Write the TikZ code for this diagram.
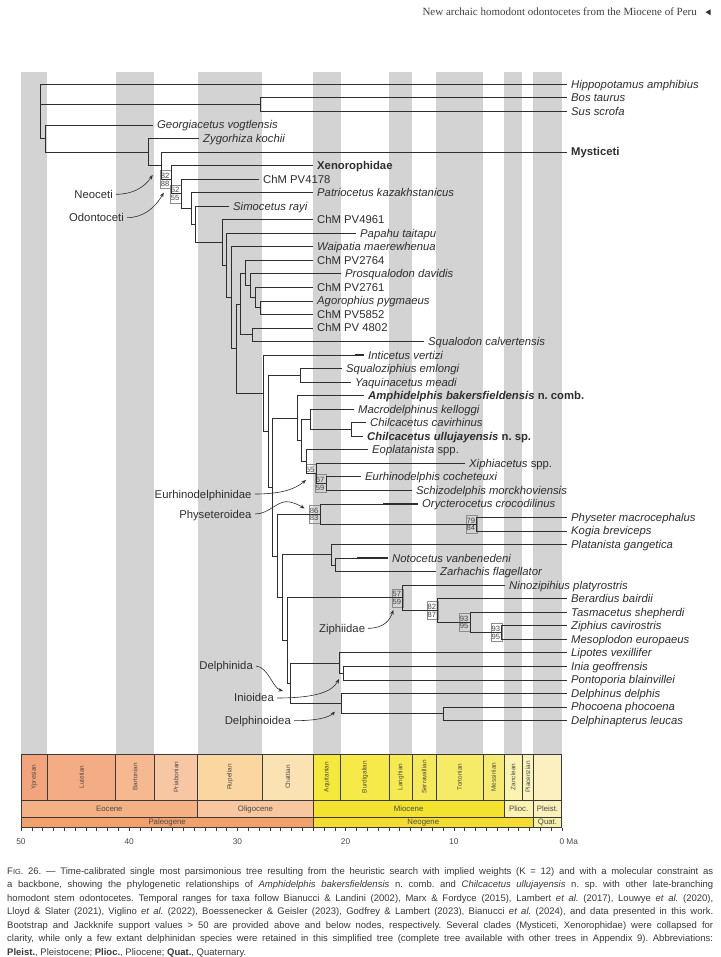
\documentclass[tikz,border=0pt]{standalone}
\usepackage{fontspec}
\setmainfont{Liberation Sans}
\newfontfamily\headfont{Liberation Serif}
\usetikzlibrary{arrows.meta,calc}
\definecolor{band}{RGB}{211,211,211}
\definecolor{ink}{HTML}{2E2E2E}
\definecolor{supc}{HTML}{444444}
\definecolor{scalet}{HTML}{4A4A4A}
\definecolor{cellline}{HTML}{3A3A3A}
\definecolor{capc}{HTML}{383838}
\definecolor{cYpr}{HTML}{F2A57C}\definecolor{cLut}{HTML}{F3AC83}
\definecolor{cBar}{HTML}{F5B890}\definecolor{cPri}{HTML}{F7C6A2}
\definecolor{cRup}{HTML}{FAD6A0}\definecolor{cCha}{HTML}{FBE2B3}
\definecolor{cAqu}{HTML}{F5EA3C}\definecolor{cBur}{HTML}{F5EA48}
\definecolor{cLan}{HTML}{F5EA52}\definecolor{cSer}{HTML}{F5EA5C}
\definecolor{cTor}{HTML}{F6EB66}\definecolor{cMes}{HTML}{F6EB72}
\definecolor{cZan}{HTML}{FAF4B0}\definecolor{cPia}{HTML}{FAF4BC}
\definecolor{cPls}{HTML}{FCF0C0}
\definecolor{cEoc}{HTML}{F4B185}\definecolor{cOli}{HTML}{F8C79F}
\definecolor{cMio}{HTML}{F3E22E}\definecolor{cPlio}{HTML}{FAF2B0}
\definecolor{cPlei}{HTML}{FBEFBC}
\definecolor{cPal}{HTML}{F2A06C}\definecolor{cNeo}{HTML}{F5DC30}
\definecolor{cQua}{HTML}{F8F0A8}
\tikzset{
 branch/.style={draw=ink, line width=0.7pt},
 rangebar/.style={draw=ink, line width=1.15pt},
 tiplab/.style={anchor=base west, inner sep=0pt, text=ink, font=\fontsize{11.3}{13}\selectfont},
 sup/.style={inner sep=0.3pt, text=supc, font=\fontsize{7.6}{8}\selectfont},
 supbox/.style={draw=black!45, line width=0.35pt},
 ann/.style={anchor=base east, inner sep=0pt, text=ink, font=\fontsize{11.3}{13}\selectfont},
 annarrow/.style={draw=ink, line width=0.6pt, -{Stealth[length=4.5pt,width=3.6pt]}},
 cell/.style={draw=cellline, line width=0.6pt},
 stagelab/.style={rotate=90, inner sep=0pt, text=scalet, font=\fontsize{6.4}{7}\selectfont},
 eplab/.style={inner sep=0pt, text=scalet, font=\fontsize{7.8}{8}\selectfont},
 axlab/.style={anchor=base, inner sep=0pt, text=scalet, font=\fontsize{8.3}{9}\selectfont},
 tickmark/.style={draw=cellline, line width=0.5pt},
 bandfill/.style={fill=band, draw=none},
}
\newcommand\tipx[4]{%
 \coordinate (#1) at (#3,{84.3+13.536*#2});
 \node[tiplab] (#1-l) at ($(#1)+(4,4)$) {#4};}
\newcommand\kids[2]{\foreach \c in {#2}{\draw[branch] (#1) |- (\c);}}
\newcommand\rng[2]{\draw[rangebar] let \p1=(#1) in (#1) -- (#2pt,\y1);}
\newcommand\sv[3]{%
 \draw[supbox] ($(#1)+(-10.5,-9)$) rectangle ($(#1)+(0,9)$);
 \node[sup,anchor=south east] at ($(#1)+(-1.2,-0.5)$) {#2};
 \node[sup,anchor=north east] at ($(#1)+(-1.2,0.7)$) {#3};}
\begin{document}
\frenchspacing
\begin{tikzpicture}[x=1pt,y=-1pt]
\useasboundingbox (0,0) rectangle (720,957);
\fill[white] (0,0) rectangle (720,957);
% header
\node[anchor=base east, inner sep=0pt, text=black!75, font=\headfont\fontsize{11}{12}\selectfont] (head) at (697,16) {New archaic homodont odontocetes from the Miocene of Peru};
\fill[black!80] (710.5,9.3) -- (705.5,12.2) -- (710.5,15.1) -- cycle;
% gray bands
\foreach \a/\b in {21/47.3,115.7/154.3,197.7/262.3,313.3/340.7,389/412.3,436/483.3,504/522.3,533.3/561.7}
 {\fill[bandfill] (\a,72) rectangle (\b,754);}
% tips
\tipx{hip}{0}{567}{\textit{Hippopotamus amphibius}}
\tipx{bos}{1}{567}{\textit{Bos taurus}}
\tipx{sus}{2}{567}{\textit{Sus scrofa}}
\tipx{geo}{3}{153}{\textit{Georgiacetus vogtlensis}}
\tipx{zyg}{4}{199}{\textit{Zygorhiza kochii}}
\tipx{mys}{5}{567}{\textbf{Mysticeti}}
\tipx{xen}{6}{313}{\textbf{Xenorophidae}}
\tipx{pv4178}{7}{259}{ChM PV4178}
\tipx{pat}{8}{313}{\textit{Patriocetus kazakhstanicus}}
\tipx{sim}{9}{229}{\textit{Simocetus rayi}}
\tipx{pv4961}{10}{313}{ChM PV4961}
\tipx{pap}{11}{356}{\textit{Papahu taitapu}}
\tipx{wai}{12}{313}{\textit{Waipatia maerewhenua}}
\tipx{pv2764}{13}{313}{ChM PV2764}
\tipx{pro}{14}{341}{\textit{Prosqualodon davidis}}
\tipx{pv2761}{15}{313}{ChM PV2761}
\tipx{ago}{16}{313}{\textit{Agorophius pygmaeus}}
\tipx{pv5852}{17}{313}{ChM PV5852}
\tipx{pv4802}{18}{313}{ChM PV 4802}
\tipx{squ}{19}{424}{\textit{Squalodon calvertensis}}
\tipx{int}{20}{364}{\textit{Inticetus vertizi}}
\tipx{sqz}{21}{342}{\textit{Squaloziphius emlongi}}
\tipx{yaq}{22}{351}{\textit{Yaquinacetus meadi}}
\tipx{amp}{23}{364}{\textbf{\textit{Amphidelphis bakersfieldensis} n. comb.}}
\tipx{mac}{24}{354}{\textit{Macrodelphinus kelloggi}}
\tipx{chc}{25}{366}{\textit{Chilcacetus cavirhinus}}
\tipx{chu}{26}{363}{\textbf{\textit{Chilcacetus ullujayensis} n. sp.}}
\tipx{eop}{27}{368}{\textit{Eoplatanista} spp.}
\tipx{xip}{28}{465}{\textit{Xiphiacetus} spp.}
\tipx{eur}{29}{361}{\textit{Eurhinodelphis cocheteuxi}}
\tipx{sch}{30}{412}{\textit{Schizodelphis morckhoviensis}}
\tipx{ory}{31}{418}{\textit{Orycterocetus crocodilinus}}
\tipx{phy}{32}{567}{\textit{Physeter macrocephalus}}
\tipx{kog}{33}{567}{\textit{Kogia breviceps}}
\tipx{pla}{34}{567}{\textit{Platanista gangetica}}
\tipx{not}{35}{388}{\textit{Notocetus vanbenedeni}}
\tipx{zar}{36}{436}{\textit{Zarhachis flagellator}}
\tipx{nin}{37}{505}{\textit{Ninozipihius platyrostris}}
\tipx{ber}{38}{567}{\textit{Berardius bairdii}}
\tipx{tas}{39}{567}{\textit{Tasmacetus shepherdi}}
\tipx{zip}{40}{567}{\textit{Ziphius cavirostris}}
\tipx{mes}{41}{567}{\textit{Mesoplodon europaeus}}
\tipx{lip}{42}{567}{\textit{Lipotes vexillifer}}
\tipx{ini}{43}{567}{\textit{Inia geoffrensis}}
\tipx{pon}{44}{567}{\textit{Pontoporia blainvillei}}
\tipx{del}{45}{567}{\textit{Delphinus delphis}}
\tipx{pho}{46}{567}{\textit{Phocoena phocoena}}
\tipx{dla}{47}{567}{\textit{Delphinapterus leucas}}
% internal nodes
\coordinate (root) at (40,84.3);
\coordinate (nBS) at (260,104.6);
\coordinate (nCet) at (45,138.5);
\coordinate (nZyg) at (148,152.1);
\coordinate (nNeo) at (161,165.8);
\coordinate (nOdo) at (171,179.65);
\coordinate (n4178) at (181,193.8);
\coordinate (nPat) at (191.7,208.5);
\coordinate (nSim) at (195,224.3);
\coordinate (n4961) at (222.7,242.55);
\coordinate (nPap) at (226.7,265.4);
\coordinate (nWai) at (231.7,297.6);
\coordinate (nCrown) at (236.7,348.5);
\coordinate (nSqd) at (240,303.9);
\coordinate (n2764) at (245.7,273.0);
\coordinate (nPro) at (250,285.65);
\coordinate (n2761) at (255,297.5);
\coordinate (nAP) at (260,307.65);
\coordinate (nSq) at (252,334.75);
\coordinate (nInt) at (263,393.05);
\coordinate (nSYA) at (268,431.1);
\coordinate (nSY) at (300,375.35);
\coordinate (nAmpP) at (272.7,486.9);
\coordinate (nAmp) at (297.7,418.0);
\coordinate (nME) at (301.7,440.45);
\coordinate (nMac) at (310,419.3);
\coordinate (nChil) at (351.7,429.45);
\coordinate (nEop) at (306,461.6);
\coordinate (nEur) at (316,473.45);
\coordinate (nES) at (326,483.6);
\coordinate (nPPZD) at (277,555.85);
\coordinate (nPhys) at (320,514.1);
\coordinate (nPK) at (476.7,524.25);
\coordinate (nPZD) at (282,597.6);
\coordinate (nPlat) at (331.7,554.7);
\coordinate (nNZ) at (335,564.85);
\coordinate (nZD) at (287,640.55);
\coordinate (nZiph) at (402.7,597.8);
\coordinate (nBer) at (437.7,610.5);
\coordinate (nTas) at (470,622.35);
\coordinate (nZip) at (501.7,632.5);
\coordinate (nDph) at (290.7,683.3);
\coordinate (nLip) at (339.3,662.95);
\coordinate (nIP) at (343.3,673.1);
\coordinate (nDel) at (341.7,703.6);
\coordinate (nPD) at (443.3,713.75);
% support boxes and values (drawn under branches)
\sv{nOdo}{82}{88}
\sv{n4178}{52}{55}
\draw[supbox] ($(nEur)+(-10,-9.5)$) rectangle (nEur);
\node[sup,anchor=south east] at ($(nEur)+(-1.2,-0.5)$) {55};
\sv{nES}{67}{59}
\sv{nPhys}{86}{83}
\sv{nPK}{79}{84}
\sv{nZiph}{57}{59}
\sv{nBer}{82}{87}
\sv{nTas}{93}{95}
\sv{nZip}{93}{95}
% branches
\kids{root}{hip,nBS,nCet}
\kids{nBS}{bos,sus}
\kids{nCet}{geo,nZyg}
\kids{nZyg}{zyg,nNeo}
\kids{nNeo}{mys,nOdo}
\kids{nOdo}{xen,n4178}
\kids{n4178}{pv4178,nPat}
\kids{nPat}{pat,nSim}
\kids{nSim}{sim,n4961}
\kids{n4961}{pv4961,nPap}
\kids{nPap}{pap,nWai}
\kids{nWai}{wai,nCrown}
\kids{nCrown}{nSqd,nInt}
\kids{nSqd}{n2764,nSq}
\kids{n2764}{pv2764,nPro}
\kids{nPro}{pro,n2761}
\kids{n2761}{pv2761,nAP}
\kids{nAP}{ago,pv5852}
\kids{nSq}{pv4802,squ}
\kids{nInt}{int,nSYA}
\kids{nSYA}{nSY,nAmpP}
\kids{nSY}{sqz,yaq}
\kids{nAmpP}{nAmp,nPPZD}
\kids{nAmp}{amp,nME}
\kids{nME}{nMac,nEop}
\kids{nMac}{mac,nChil}
\kids{nChil}{chc,chu}
\kids{nEop}{eop,nEur}
\kids{nEur}{xip,nES}
\kids{nES}{eur,sch}
\kids{nPPZD}{nPhys,nPZD}
\kids{nPhys}{ory,nPK}
\kids{nPK}{phy,kog}
\kids{nPZD}{nPlat,nZD}
\kids{nPlat}{pla,nNZ}
\kids{nNZ}{not,zar}
\kids{nZD}{nZiph,nDph}
\kids{nZiph}{nin,nBer}
\kids{nBer}{ber,nTas}
\kids{nTas}{tas,nZip}
\kids{nZip}{zip,mes}
\kids{nDph}{nLip,nDel}
\kids{nLip}{lip,nIP}
\kids{nIP}{ini,pon}
\kids{nDel}{del,nPD}
\kids{nPD}{pho,dla}
% temporal ranges (thicker ends)
\rng{squ}{342}
\rng{int}{355}
\rng{amp}{342}
\rng{chc}{352}
\rng{chu}{352}
\rng{eop}{330}
\rng{xip}{380}
\rng{sch}{370}
\rng{ory}{383}
\rng{not}{357}
\rng{zar}{395}
\rng{nin}{490}
% clade annotations
\node[ann] (aNeo) at (113,198.3) {Neoceti};
\node[ann] (aOdo) at (124,221.7) {Odontoceti};
\node[ann] (aEur) at (251.7,498) {Eurhinodelphinidae};
\node[ann] (aPhy) at (251.7,518) {Physeteroidea};
\node[ann,anchor=base west] (aZip) at (319,632.3) {Ziphiidae};
\node[ann] (aDph) at (253,669.7) {Delphinida};
\node[ann] (aIni) at (274,701.7) {Inioidea};
\node[ann] (aDel) at (291,724.7) {Delphinoidea};
\draw[annarrow] (116,194.3) .. controls (132,194.3) and (144,188) .. (152.7,175);
\draw[annarrow] (127,217.7) .. controls (143,217.7) and (155,208) .. (163.7,192.7);
\draw[annarrow] (255,494) .. controls (282,494) and (295,489) .. (306,480);
\draw[annarrow] (255,514) .. controls (270,514) and (278,499) .. (290,502) .. controls (296,503.5) and (300,505.5) .. (304.5,508.5);
\draw[annarrow] (368,628.3) .. controls (384,628.3) and (390,620) .. (393.3,610);
\draw[annarrow] (256,666) .. controls (268,667) and (273,688) .. (283,691);
\draw[annarrow] (277,698) .. controls (315,698) and (332,692) .. (339,679);
\draw[annarrow] (294,720.7) .. controls (315,720.7) and (328,718) .. (335,711.7);
% time scale: stages
\foreach \a/\b/\t/\c in {21/47.3/Ypresian/cYpr,47.3/115.7/Lutetian/cLut,115.7/154.3/Bartonian/cBar,154.3/197.7/Priabonian/cPri,197.7/262.3/Rupelian/cRup,262.3/313.3/Chattian/cCha,313.3/340.7/Aquitanian/cAqu,340.7/389/Burdigalian/cBur,389/412.3/Langhian/cLan,412.3/436/Serravallian/cSer,436/483.3/Tortonian/cTor,483.3/504/Messinian/cMes,504/522.3/Zanclean/cZan,522.3/533.3/Piacenzian/cPia,533.3/561.7//cPls}
 {\draw[cell,fill=\c] (\a,754) rectangle (\b,800);
  \node[stagelab] at ({(\a+\b)/2},777) {\t};}
\foreach \a/\b/\t/\c in {21/197.7/Eocene/cEoc,197.7/313.3/Oligocene/cOli,313.3/504/Miocene/cMio,504/533.3/Plioc./cPlio,533.3/561.7/Pleist./cPlei}
 {\draw[cell,fill=\c] (\a,800) rectangle (\b,817.7);
  \node[eplab] at ({(\a+\b)/2},809) {\t};}
\foreach \a/\b/\t/\c in {21/313.3/Paleogene/cPal,313.3/533.3/Neogene/cNeo,533.3/561.7/Quat./cQua}
 {\draw[cell,fill=\c] (\a,817.7) rectangle (\b,827.7);
  \node[eplab] at ({(\a+\b)/2},822.8) {\t};}
\foreach \t in {0,...,50} {\draw[tickmark] ({562-10.82*\t},827.7) -- ++(0,3.5);}
\foreach \t in {50,40,30,20,10} {\node[axlab] at ({562-10.82*\t},844) {\t};}
\node[axlab,anchor=base west] (ma) at (559.3,844) {0 Ma};
% caption
\node[anchor=north west, inner sep=0pt, text width=706pt, align=justify, text=capc,
 font=\fontsize{9.5}{13.5}\selectfont] (cap) at (7,867) {%
F{\fontsize{7.4}{13.5}\selectfont IG}. 26. — Time-calibrated single most parsimonious tree resulting from the heuristic search with implied weights (K = 12) and with a molecular constraint as\linebreak
a backbone, showing the phylogenetic relationships of \textit{Amphidelphis bakersfieldensis} n. comb. and \textit{Chilcacetus ullujayensis} n. sp. with other late-branching\linebreak
homodont stem odontocetes. Temporal ranges for taxa follow Bianucci \& Landini (2002), Marx \& Fordyce (2015), Lambert \textit{et al.} (2017), Louwye \textit{et al.} (2020),\linebreak
Lloyd \& Slater (2021), Viglino \textit{et al.} (2022), Boessenecker \& Geisler (2023), Godfrey \& Lambert (2023), Bianucci \textit{et al.} (2024), and data presented in this work.\linebreak
Bootstrap and Jackknife support values > 50 are provided above and below nodes, respectively. Several clades (Mysticeti, Xenorophidae) were collapsed for\linebreak
clarity, while only a few extant delphinidan species were retained in this simplified tree (complete tree available with other trees in Appendix 9). Abbreviations:\linebreak
\textbf{Pleist.}, Pleistocene; \textbf{Plioc.}, Pliocene; \textbf{Quat.}, Quaternary.};
\end{tikzpicture}
\end{document}
